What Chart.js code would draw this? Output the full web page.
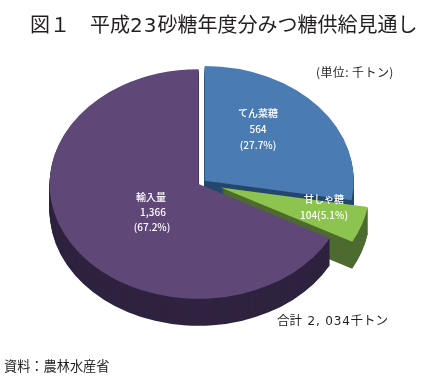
<!DOCTYPE html>
<html lang="ja">
<head>
<meta charset="utf-8">
<title>図1</title>
<script src="https://cdn.jsdelivr.net/npm/chart.js@4"></script>
<style>
  html, body { margin: 0; padding: 0; background: #fff; }
  #wrap { position: relative; width: 442px; height: 381px; overflow: hidden; }
  #pie { position: absolute; left: 0; top: 0; }
  .t { position: absolute; white-space: pre; color: #231f20; font-family: "Noto Sans CJK JP", sans-serif; line-height: 1; }
  .num { font-family: "DejaVu Sans", sans-serif; }
</style>
</head>
<body>
<div id="wrap">
  <canvas id="pie" width="442" height="381"></canvas>
  <div class="t" style="left:30px;top:14px;font-size:20px;">図１</div>
  <div class="t" style="left:90px;top:14px;font-size:20px;">平成<span class="num" style="letter-spacing:1px;">23</span>砂糖年度分みつ糖供給見通し</div>
  <div class="t" style="left:316px;top:66px;font-size:12px;letter-spacing:0.4px;">(単位: 千トン)</div>
  <div class="t" style="left:277px;top:314px;font-size:12.5px;">合計  <span class="num" style="font-size:12px;letter-spacing:0.8px;">2, 034</span>千トン</div>
  <div class="t" style="left:4px;top:359px;font-size:13.2px;">資料：農林水産省</div>
</div>
<script>
// values in thousand tons, clockwise from 12 o'clock
const categories = ['てん菜糖', '甘しゃ糖', '輸入量'];
const values = [564, 104, 1366];
const sliceColors = ['#4a7bb2', '#8cc44f', '#5f4878'];
const wallColors = ['#25476e', '#4e6b30', '#2f2340'];
const explode = [3.6, 20, 4];

// text inside the slices, one array per slice
const sliceLabels = [
  ['てん菜糖', '564', '(27.7%)'],
  ['甘しゃ糖', '104(5.1%)'],
  ['輸入量', '1,366', '(67.2%)']
];
const labelSpots = [
  [[258, 113], [258, 129], [258, 145]],
  [[324, 199], [324, 215]],
  [[151, 197], [153, 212], [152, 227]]
];

// fake 3D: squash the pie and stack a dark wall under each slice
const baseX = 202, baseY = 182.5, squash = 0.77, depth = 27;

const pie3d = {
  id: 'pie3d',
  beforeDatasetsDraw(chart) {
    const ctx = chart.ctx;
    const arcs = chart.getDatasetMeta(0).data;
    arcs.forEach((el, i) => {
      const mid = (el.startAngle + el.endAngle) / 2;
      const ex = Math.cos(mid) * explode[i];
      const ey = Math.sin(mid) * explode[i] * squash;
      for (let d = depth; d >= 0; d--) {
        ctx.save();
        ctx.translate(baseX + ex, baseY + ey + d);
        ctx.scale(1, squash);
        ctx.translate(-el.x, -el.y);
        if (d > 0) {
          ctx.fillStyle = wallColors[i];
          ctx.beginPath();
          ctx.moveTo(el.x, el.y);
          ctx.arc(el.x, el.y, el.outerRadius, el.startAngle, el.endAngle);
          ctx.closePath();
          ctx.fill();
        } else {
          el.draw(ctx);
        }
        ctx.restore();
      }
    });
    return false;
  },
  afterDraw(chart) {
    const ctx = chart.ctx;
    ctx.save();
    ctx.fillStyle = '#fff';
    ctx.font = '500 10px "Noto Sans CJK JP", sans-serif';
    ctx.textAlign = 'center';
    ctx.textBaseline = 'middle';
    sliceLabels.forEach((lines, i) => {
      lines.forEach((txt, j) => ctx.fillText(txt, labelSpots[i][j][0], labelSpots[i][j][1]));
    });
    ctx.restore();
  }
};

new Chart(document.getElementById('pie'), {
  type: 'pie',
  data: {
    labels: categories,
    datasets: [{ data: values, backgroundColor: sliceColors, borderWidth: 0 }]
  },
  options: {
    responsive: false,
    animation: false,
    radius: 149,
    events: [],
    plugins: { legend: { display: false }, tooltip: { enabled: false }, title: { display: false } }
  },
  plugins: [pie3d]
});
</script>
</body>
</html>
